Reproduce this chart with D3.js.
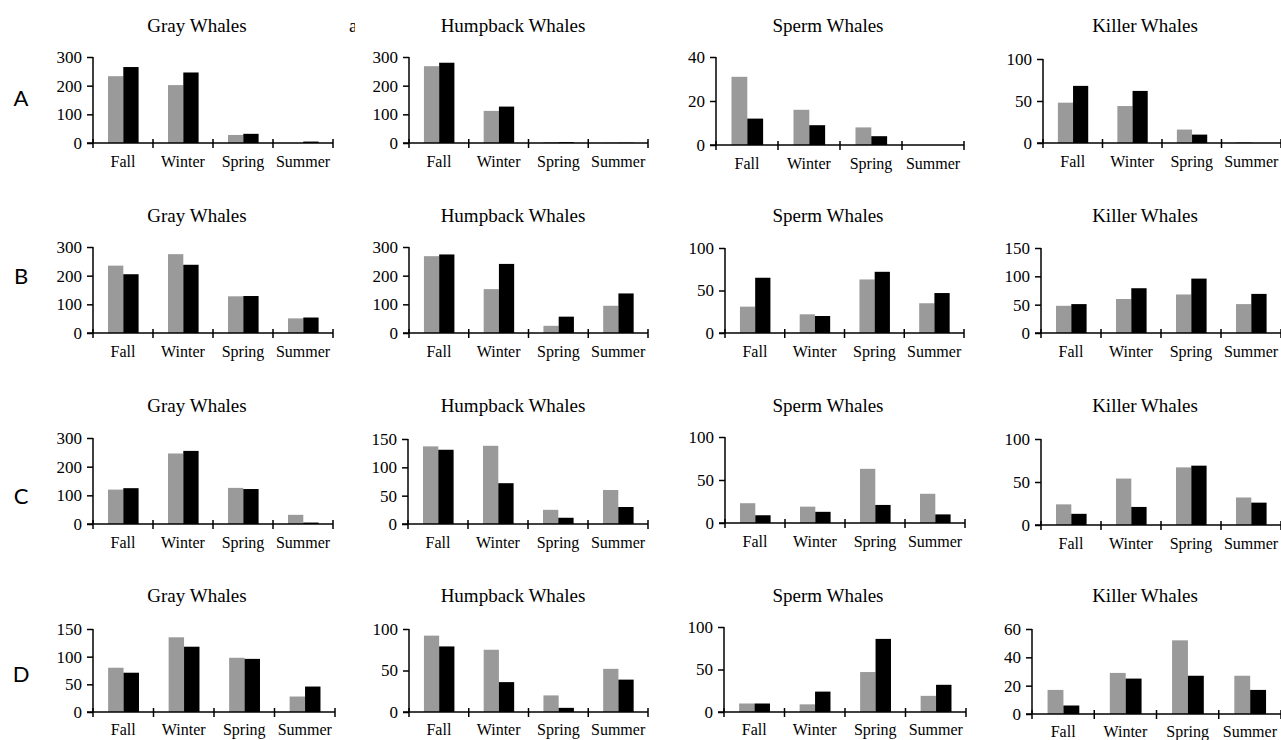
<!DOCTYPE html>
<html><head><meta charset="utf-8">
<script src="https://cdn.jsdelivr.net/npm/d3@7/dist/d3.min.js"></script>
<style>
html,body{margin:0;padding:0;background:#fff;overflow:hidden;}
svg{display:block;}
</style></head>
<body>
<svg id="chart" width="1281" height="740"></svg>
<script>
// ---------- DATA ----------
const seasons = ["Fall", "Winter", "Spring", "Summer"];
const species = ["Gray Whales", "Humpback Whales", "Sperm Whales", "Killer Whales"];
const rowLabels = ["A", "B", "C", "D"];

// light-gray series and black series (per species, per season)
const rowA_gray = [[233, 202, 28, 0], [268, 112, 3, 1], [31, 16, 8, 0], [48, 44, 16, 1]];
const rowA_black = [[265, 246, 32, 5], [280, 127, 3, 1], [12, 9, 4, 0], [68, 62, 10, 0]];
const rowA_ticks = [[0, 100, 200, 300], [0, 100, 200, 300], [0, 20, 40], [0, 50, 100]];

const rowB_gray = [[235, 275, 128, 51], [268, 153, 25, 95], [31, 22, 63, 35], [48, 60, 68, 51]];
const rowB_black = [[205, 238, 129, 54], [274, 241, 57, 138], [65, 20, 72, 47], [51, 79, 96, 69]];
const rowB_ticks = [[0, 100, 200, 300], [0, 100, 200, 300], [0, 50, 100], [0, 50, 100, 150]];

const rowC_gray = [[120, 246, 126, 32], [137, 138, 25, 60], [23, 19, 63, 34], [24, 54, 67, 32]];
const rowC_black = [[125, 255, 122, 5], [131, 72, 11, 30], [9, 13, 21, 10], [13, 21, 69, 26]];
const rowC_ticks = [[0, 100, 200, 300], [0, 50, 100, 150], [0, 50, 100], [0, 50, 100]];

const rowD_gray = [[80, 135, 98, 28], [92, 75, 20, 52], [10, 9, 47, 19], [17, 29, 52, 27]];
const rowD_black = [[71, 118, 96, 46], [79, 36, 5, 39], [10, 24, 86, 32], [6, 25, 27, 17]];
const rowD_ticks = [[0, 50, 100, 150], [0, 50, 100], [0, 50, 100], [0, 20, 40, 60]];

const grayRows = [rowA_gray, rowB_gray, rowC_gray, rowD_gray];
const blackRows = [rowA_black, rowB_black, rowC_black, rowD_black];
const tickRows = [rowA_ticks, rowB_ticks, rowC_ticks, rowD_ticks];

// ---------- LAYOUT ----------
const panelX = [
  [[93, 333], [409, 648], [716, 964], [1043, 1281]],
  [[93, 333], [409, 648], [725, 964], [1041, 1281]],
  [[93, 333], [408, 648], [725, 965], [1041, 1281]],
  [[93, 335], [409, 648], [724, 966], [1032, 1281]]
];
const panelY = [
  [[57, 143], [57, 143], [57, 145], [59, 143]],
  [[247, 333], [247, 333], [248, 333], [248, 333]],
  [[438, 524], [439, 524], [437, 523], [439, 525]],
  [[629, 712], [629, 712], [627, 712], [629, 714]]
];
const titleY = [25, 215, 405, 595];
const titleX = [197, 513, 828, 1145];
const rowLabelY = [97, 275, 495, 673];
const labelPad = [13, 13, 13, 12];

const svg = d3.select("#chart");
const serif = "'Liberation Serif', 'Times New Roman', serif";
const colors = ["#9a9a9a", "#000000"];

for (let r = 0; r < 4; r++) {
  svg.append("text")
    .attr("x", 21).attr("y", rowLabelY[r])
    .attr("text-anchor", "middle").attr("dominant-baseline", "central")
    .style("font-family", "Lato, 'Open Sans', sans-serif").style("font-size", "22px")
    .text(rowLabels[r]);

  for (let c = 0; c < 4; c++) {
    const [x0, x1] = panelX[r][c];
    const [yTop, yZero] = panelY[r][c];
    const ticks = tickRows[r][c];
    const yMax = ticks[ticks.length - 1];

    const x = d3.scaleBand().domain(seasons).range([x0, x1]).padding(0);
    const bw = x.bandwidth();
    const xs = d3.scaleBand().domain([0, 1]).range([bw * 0.25, bw * 0.76]).padding(0);
    const y = d3.scaleLinear().domain([0, yMax]).range([yZero, yTop]);

    const g = svg.append("g");

    // title
    g.append("text")
      .attr("x", titleX[c]).attr("y", titleY[r])
      .attr("text-anchor", "middle").attr("dominant-baseline", "central")
      .style("font-family", serif).style("font-size", "19px")
      .text(species[c]);

    // bars
    const vals = seasons.map((s, i) => ({ s, v: [grayRows[r][c][i], blackRows[r][c][i]] }));
    vals.forEach(d => {
      d.v.forEach((v, k) => {
        g.append("rect")
          .attr("x", x(d.s) + xs(k))
          .attr("y", y(v))
          .attr("width", xs.bandwidth())
          .attr("height", yZero - y(v))
          .attr("fill", colors[k]);
      });
    });

    // y axis
    const ya = g.append("g").attr("transform", `translate(${x0},0)`)
      .call(d3.axisLeft(y).tickValues(ticks).tickSize(6).tickSizeOuter(0).tickPadding(5));
    ya.select(".domain").attr("stroke", "#000").attr("stroke-width", 1.5)
      .attr("d", `M0,${yTop}V${yZero}`);
    ya.selectAll(".tick line").attr("stroke", "#000").attr("stroke-width", 1.5);
    ya.selectAll(".tick text").style("font-family", serif).style("font-size", "17px").attr("fill", "#000");

    // x axis with labels
    const xa = g.append("g").attr("transform", `translate(0,${yZero})`)
      .call(d3.axisBottom(x).tickSize(0).tickPadding(labelPad[r]));
    xa.select(".domain").attr("stroke", "#000").attr("stroke-width", 1.5)
      .attr("d", `M${x0 - 6},0H${x1}`);
    xa.selectAll(".tick text").style("font-family", serif).style("font-size", "16px").attr("fill", "#000");

    // boundary ticks on x axis
    const bounds = seasons.map(s => x(s)).concat([x1]);
    g.selectAll(null).data(bounds).enter().append("line")
      .attr("x1", d => d).attr("x2", d => d)
      .attr("y1", yZero - 4).attr("y2", yZero + 5)
      .attr("stroke", "#000").attr("stroke-width", 1.5);
  }
}

// stray partial glyph near the first title row
svg.append("clipPath").attr("id", "clipA").append("rect")
  .attr("x", 345).attr("y", 10).attr("width", 10).attr("height", 30);
svg.append("text")
  .attr("x", 349).attr("y", 25).attr("dominant-baseline", "central")
  .attr("clip-path", "url(#clipA)")
  .style("font-family", serif).style("font-size", "19px")
  .text("a");
</script>
</body></html>
